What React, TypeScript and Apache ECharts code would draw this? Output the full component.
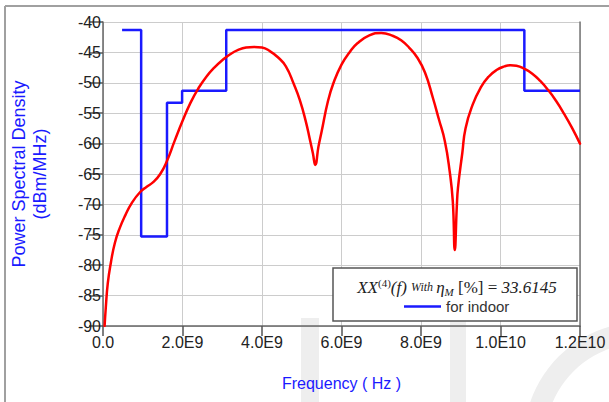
import React, { useEffect, useRef } from "react";
import * as echarts from "echarts";

// Red PSD curve: frequency (GHz) and level (dBm/MHz)
const psdFreqGHz = [
  0.04, 0.07, 0.12, 0.2, 0.3, 0.42, 0.56, 0.73, 0.93, 1.1, 1.27, 1.44, 1.6, 1.8, 2.0,
  2.2, 2.4, 2.6, 2.8, 3.0, 3.2, 3.4, 3.6, 3.8, 4.0, 4.2, 4.4, 4.6, 4.8, 4.95,
  5.1, 5.2, 5.28, 5.34, 5.42, 5.5, 5.66, 5.8, 6.0, 6.2, 6.4, 6.7, 7.0, 7.3, 7.5,
  7.7, 7.9, 8.1, 8.3, 8.45, 8.6, 8.72, 8.8, 8.85, 8.9, 8.93, 9.04, 9.12, 9.3, 9.5,
  9.7, 9.9, 10.1, 10.25, 10.4, 10.6, 10.8, 11.0, 11.2, 11.4, 11.6, 11.8, 12.0,
];
const psdLevel = [
  -90, -87, -83, -79.5, -76.3, -73.9, -71.8, -69.7, -68.0, -67.1, -66.3, -65.0, -63.0, -59.6, -56.3,
  -53.3, -50.9, -49.0, -47.5, -46.3, -45.3, -44.6, -44.2, -44.1, -44.2, -44.8, -45.8, -47.3, -50.2, -52.8,
  -56.3, -59.2, -61.6, -63.5, -60.5, -58.0, -53.0, -50.0, -47.0, -45.0, -43.5, -42.2, -41.8, -42.3, -43.0,
  -44.2, -45.8, -48.3, -52.5, -56.0, -59.6, -64.5, -69.5, -77.5, -70.5, -67.3, -61.5, -57.5, -53.6, -50.8,
  -49.0, -47.9, -47.3, -47.1, -47.2, -47.7, -48.5, -49.7, -51.2, -53.0, -55.1, -57.4, -60.0,
];

// Blue indoor mask: step points
const maskFreqGHz = [0.48, 0.96, 0.96, 1.61, 1.61, 1.99, 1.99, 3.1, 3.1, 10.6, 10.6, 12.0];
const maskLevel = [-41.3, -41.3, -75.3, -75.3, -53.3, -53.3, -51.3, -51.3, -41.3, -41.3, -51.3, -51.3];

const xTickLabels: Record<number, string> = {
  0: "0.0",
  2e9: "2.0E9",
  4e9: "4.0E9",
  6e9: "6.0E9",
  8e9: "8.0E9",
  10e9: "1.0E10",
  12e9: "1.2E10",
};

const SANS = "'Liberation Sans', Arial, sans-serif";
const SERIF = "'Liberation Serif', 'Times New Roman', serif";
const BLUE = "#1a1aff";

export default function App() {
  const ref = useRef<HTMLDivElement>(null);

  useEffect(() => {
    if (!ref.current) return;
    const chart = echarts.init(ref.current, undefined, { renderer: "svg" });
    const psdData = psdFreqGHz.map((f, i) => [f * 1e9, psdLevel[i]]);
    const maskData = maskFreqGHz.map((f, i) => [f * 1e9, maskLevel[i]]);

    chart.setOption({
      animation: false,
      backgroundColor: "#ffffff",
      grid: { left: 101, top: 22, right: 29, bottom: 76 },
      xAxis: {
        type: "value",
        min: 0,
        max: 12e9,
        interval: 2e9,
        name: "Frequency ( Hz )",
        nameLocation: "middle",
        nameGap: 49,
        nameTextStyle: { color: BLUE, fontSize: 16, fontFamily: SANS },
        axisLine: { show: true, onZero: false, lineStyle: { color: "#666", width: 1.5 } },
        axisTick: { show: true, length: 10, lineStyle: { color: "#555", width: 1.5 } },
        axisLabel: {
          color: "#222",
          fontSize: 16,
          fontFamily: SANS,
          margin: 8,
          formatter: (v: number) => xTickLabels[v] ?? String(v),
        },
        splitLine: { show: true, lineStyle: { color: "#cccccc", width: 1 } },
      },
      yAxis: [
        {
          type: "value",
          min: -90,
          max: -40,
          interval: 5,
          name: "Power Spectral Density\n(dBm/MHz)",
          nameLocation: "middle",
          nameRotate: 90,
          nameGap: 53,
          nameTextStyle: { color: BLUE, fontSize: 18, fontFamily: SANS, lineHeight: 21 },
          axisLine: { show: true, onZero: false, lineStyle: { color: "#666", width: 1.5 } },
          axisTick: { show: true, length: 14, lineStyle: { color: "#555", width: 1.5 } },
          axisLabel: { color: "#222", fontSize: 16, fontFamily: SANS, margin: 2 },
          splitLine: { show: true, lineStyle: { color: "#cccccc", width: 1 } },
        },
        {
          type: "value",
          min: -90,
          max: -40,
          interval: 5,
          position: "right",
          axisLine: { show: true, onZero: false, lineStyle: { color: "#777", width: 1.5 } },
          axisTick: { show: false },
          axisLabel: { show: false },
          splitLine: { show: false },
        },
      ],
      legend: {
        data: [{ name: "for indoor", icon: "rect" }],
        left: 404,
        top: 299,
        padding: 0,
        itemWidth: 37,
        itemHeight: 2.5,
        itemGap: 5,
        z: 20,
        textStyle: { color: "#333", fontSize: 15, fontFamily: SANS, padding: [0, 0, 0, 0] },
      },
      graphic: [
        { type: "rect", z: -10, silent: true, shape: { x: 301, y: 318, width: 18, height: 90 }, style: { fill: "#eeeeee" } },
        { type: "rect", z: -10, silent: true, shape: { x: 450, y: 318, width: 16, height: 90 }, style: { fill: "#eeeeee" } },
        { type: "ring", z: -10, silent: true, shape: { cx: 642, cy: 440, r: 118, r0: 97 }, style: { fill: "#eeeeee" } },
        { type: "line", z: 30, silent: true, shape: { x1: 5, y1: 6, x2: 609, y2: 6 }, style: { stroke: "#a0a0a0", lineWidth: 2 } },
        { type: "line", z: 30, silent: true, shape: { x1: 5, y1: 6, x2: 5, y2: 402 }, style: { stroke: "#a0a0a0", lineWidth: 2 } },
        {
          type: "rect",
          z: 10,
          silent: true,
          shape: { x: 333, y: 268, width: 244, height: 53 },
          style: { fill: "#ffffff", stroke: "#555", lineWidth: 1.5 },
        },
        {
          type: "text",
          z: 11,
          silent: true,
          x: 457,
          y: 287,
          style: {
            text: "{i|XX}{sup|(4)}{i|(f) }{w|With }{i|η}{sub|M}{n| [%] = }{i|33.6145}",
            align: "center",
            verticalAlign: "middle",
            fill: "#222",
            rich: {
              i: { fontFamily: SERIF, fontStyle: "italic", fontSize: 17, fill: "#222", lineHeight: 20 },
              n: { fontFamily: SERIF, fontSize: 17, fill: "#222", lineHeight: 20 },
              w: { fontFamily: SERIF, fontStyle: "italic", fontSize: 12, fill: "#222", lineHeight: 20 },
              sup: { fontFamily: SERIF, fontSize: 11, fill: "#222", verticalAlign: "top", lineHeight: 14 },
              sub: { fontFamily: SERIF, fontStyle: "italic", fontSize: 11, fill: "#222", verticalAlign: "bottom", lineHeight: 12 },
            },
          },
        },
      ],
      series: [
        {
          name: "for indoor",
          type: "line",
          data: maskData,
          symbol: "none",
          z: 3,
          lineStyle: { color: BLUE, width: 2.5 },
          itemStyle: { color: BLUE },
        },
        {
          name: "PSD",
          type: "line",
          data: psdData,
          symbol: "none",
          smooth: 0.5,
          z: 4,
          lineStyle: { color: "#ff0000", width: 2.5, join: "round", cap: "round" },
          itemStyle: { color: "#ff0000" },
        },
      ],
    });

    return () => chart.dispose();
  }, []);

  return <div ref={ref} style={{ position: "fixed", left: 0, top: 0, width: 609, height: 402 }} />;
}
